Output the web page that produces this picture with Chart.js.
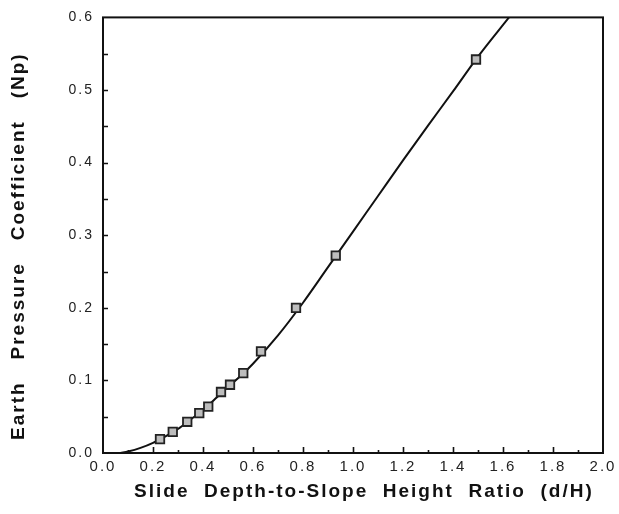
<!DOCTYPE html>
<html>
<head>
<meta charset="utf-8">
<script src="https://cdn.jsdelivr.net/npm/chart.js@4"></script>
<style>
  html, body { margin: 0; padding: 0; background: #fff; }
  #wrap { width: 619px; height: 514px; }
</style>
</head>
<body>
<div id="wrap"><canvas id="chart"></canvas></div>
<script>
// fitted curve
const curveX = [0.07, 0.10, 0.15, 0.20, 0.25, 0.30, 0.35, 0.40, 0.45, 0.50, 0.55, 0.60, 0.70, 0.80, 0.90, 1.00, 1.10, 1.20, 1.30, 1.40, 1.50, 1.624];
const curveY = [0.000, 0.002, 0.007, 0.014, 0.023, 0.033, 0.046, 0.059, 0.075, 0.091, 0.106, 0.123, 0.162, 0.207, 0.256, 0.305, 0.354, 0.403, 0.451, 0.498, 0.546, 0.600];

// measured points (square markers)
const pointX = [0.228, 0.279, 0.337, 0.385, 0.421, 0.472, 0.508, 0.561, 0.632, 0.772, 0.931, 1.492];
const pointY = [0.019, 0.029, 0.043, 0.055, 0.064, 0.084, 0.094, 0.110, 0.140, 0.200, 0.272, 0.542];

// extra blanks at the ends nudge the titles the way the original sits
const xLabel = '   Slide  Depth-to-Slope  Height  Ratio  (d/H)';
const yLabel = 'Earth   Pressure   Coefficient   (Np)   ';

function pairs(xs, ys) {
	return xs.map((x, i) => ({x: x, y: ys[i]}));
}

// frame around the plot plus inward tick marks
const frameTicks = {
	id: 'frameTicks',
	beforeDraw(chart) {
		chart.ctx.letterSpacing = '2px';
	},
	afterDatasetsDraw(chart) {
		const ctx = chart.ctx;
		const a = chart.chartArea;
		const xs = chart.scales.x, ys = chart.scales.y;
		ctx.save();
		ctx.strokeStyle = '#111';
		ctx.lineWidth = 2;
		ctx.strokeRect(a.left, a.top, a.right - a.left, a.bottom - a.top);
		ctx.lineWidth = 1.6;
		ctx.beginPath();
		for (let i = 1; i < 20; i++) {
			const px = Math.round(xs.getPixelForValue(i / 10)) + 0.5;
			const len = i % 2 === 0 ? 6 : 3;
			ctx.moveTo(px, a.bottom);
			ctx.lineTo(px, a.bottom - len);
		}
		for (let i = 1; i < 12; i++) {
			const py = Math.round(ys.getPixelForValue(i / 20)) + 0.5;
			ctx.moveTo(a.left, py);
			ctx.lineTo(a.left + 5, py);
		}
		ctx.stroke();
		ctx.restore();
	}
};

new Chart(document.getElementById('chart'), {
	type: 'scatter',
	data: {
		datasets: [
			{
				data: pairs(curveX, curveY),
				showLine: true,
				borderColor: '#111',
				borderWidth: 2,
				pointRadius: 0,
				cubicInterpolationMode: 'monotone',
				order: 2
			},
			{
				data: pairs(pointX, pointY),
				showLine: false,
				pointStyle: 'rect',
				pointRadius: 6,
				borderColor: '#222',
				borderWidth: 1.8,
				backgroundColor: '#bdbdbd',
				order: 1
			}
		]
	},
	options: {
		responsive: true,
		maintainAspectRatio: false,
		animation: false,
		layout: { padding: { top: 17, right: 16, bottom: 0, left: 0 } },
		plugins: {
			legend: { display: false },
			tooltip: { enabled: false }
		},
		scales: {
			x: {
				type: 'linear',
				min: 0, max: 2,
				grid: { display: false, drawTicks: false },
				border: { display: false },
				ticks: {
					stepSize: 0.2,
					padding: 5,
					color: '#222',
					font: { family: 'Liberation Sans', size: 15 },
					maxRotation: 0,
					callback: v => v.toFixed(1)
				},
				title: {
					display: true,
					text: xLabel,
					color: '#111',
					font: { family: 'Liberation Sans', size: 19, weight: 'bold' },
					padding: { top: 0, bottom: 11 }
				},
				afterFit(scale) { scale.height = 61; }
			},
			y: {
				type: 'linear',
				min: 0, max: 0.6,
				grid: { display: false, drawTicks: false },
				border: { display: false },
				ticks: {
					stepSize: 0.1,
					padding: 9,
					color: '#222',
					font: { family: 'Liberation Sans', size: 14 },
					callback: v => v.toFixed(1)
				},
				title: {
					display: true,
					text: yLabel,
					color: '#111',
					font: { family: 'Liberation Sans', size: 19, weight: 'bold' },
					padding: { top: 7, bottom: 0 }
				},
				afterFit(scale) { scale.width = 103; }
			}
		}
	},
	plugins: [frameTicks]
});
</script>
</body>
</html>
